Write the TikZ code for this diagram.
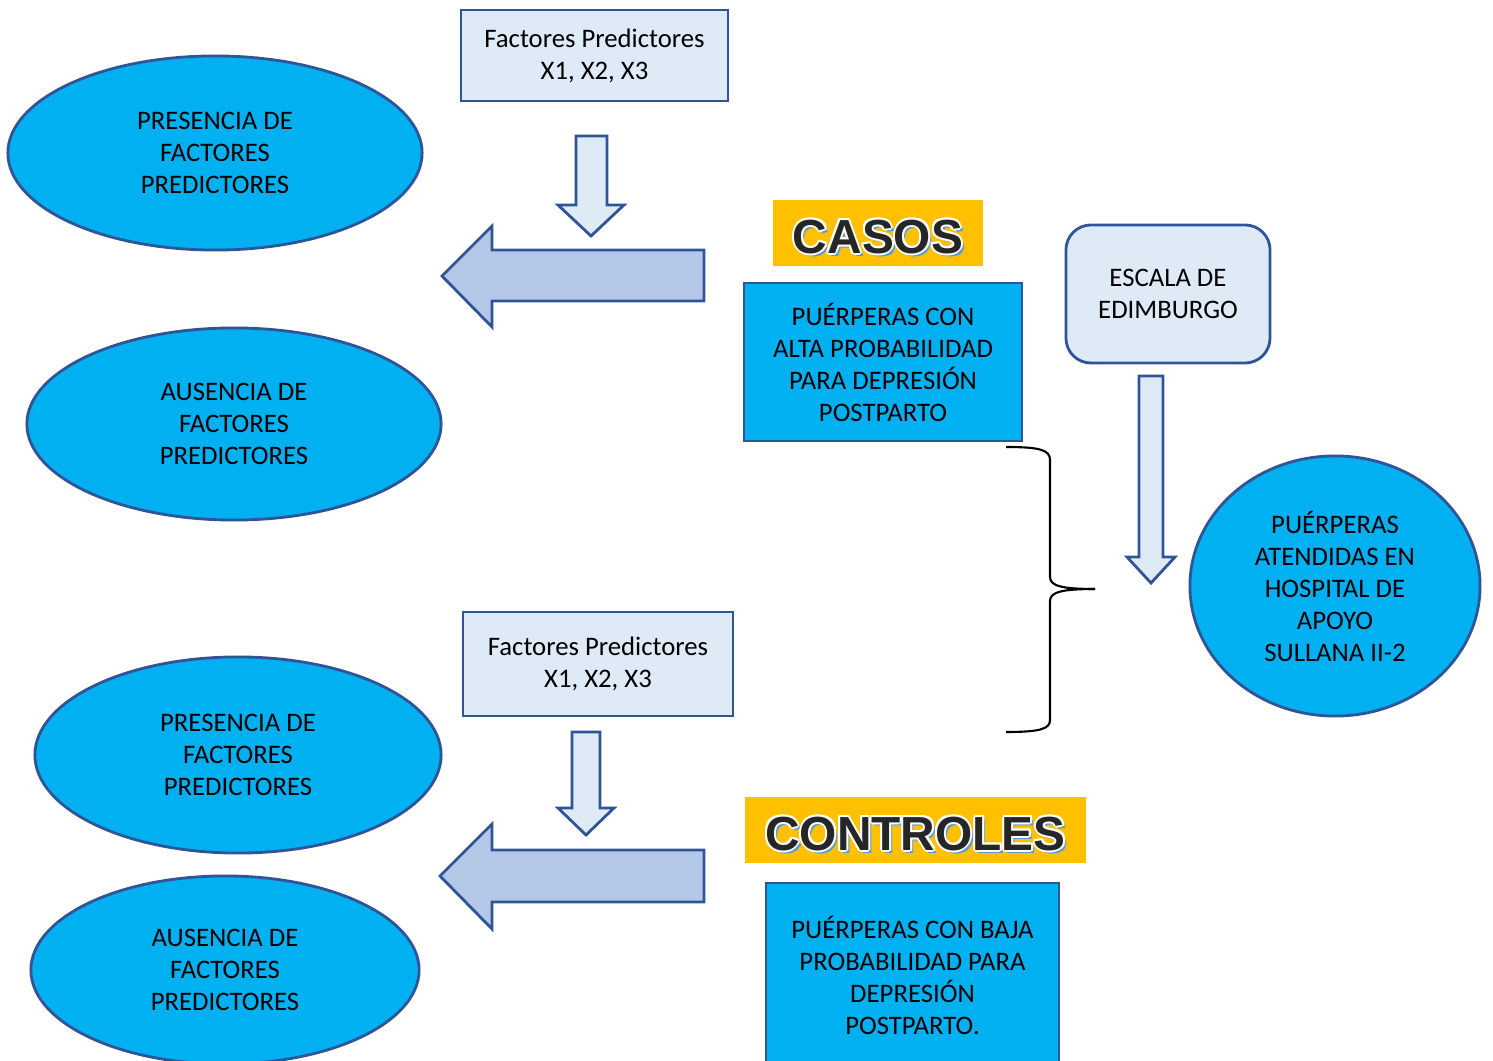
\documentclass[tikz,border=0pt]{standalone}
\usepackage{fontspec}
\setmainfont{Carlito}
\newfontfamily\bannerfont{Liberation Sans}
\usepackage{tikz}
\usetikzlibrary{shapes.geometric}

\definecolor{boxline}{HTML}{2F5597}
\definecolor{lightfill}{HTML}{DEEBF7}
\definecolor{cyanfill}{HTML}{00B0F0}
\definecolor{arrowfill}{HTML}{B4C7E7}
\definecolor{bannerfill}{HTML}{FFC000}
\definecolor{shadowblue}{HTML}{5B9BD5}
\definecolor{darktext}{HTML}{262626}

\tikzset{
  body/.style={font=\fontsize{7.6}{9.1}\selectfont, align=center},
  oval/.style={body, ellipse, draw=boxline, fill=cyanfill, line width=0.8pt, inner sep=0pt},
  factbox/.style={body, rectangle, draw=boxline, fill=lightfill, line width=0.8pt},
  groupbox/.style={body, rectangle, draw=boxline, fill=cyanfill, line width=0.8pt},
  downblock/.style={draw=boxline, fill=lightfill, line width=0.8pt, line join=miter},
  leftblock/.style={draw=boxline, fill=arrowfill, line width=0.8pt, line join=miter},
  bannerbox/.style={fill=bannerfill, inner sep=0pt},
  bannertext/.style={font=\fontsize{13.6}{16}\bannerfont\bfseries}
}

\begin{document}
\begin{tikzpicture}[x=0.01cm,y=-0.01cm]
    \useasboundingbox (0,0) rectangle (1493,1061);
    % Draw the upper group
    \node[factbox, minimum width=2.67cm, minimum height=0.91cm] (fact1) at (594.5,55.5) {Factores Predictores\\X1, X2, X3};
    \node[oval, minimum width=4.14cm, minimum height=1.94cm] (pres1) at (215,153) {PRESENCIA DE\\FACTORES\\PREDICTORES};
    \node[oval, minimum width=4.14cm, minimum height=1.92cm] (aus1) at (234,424) {AUSENCIA DE\\FACTORES\\PREDICTORES};
    \filldraw[downblock] (576,136) -- (607,136) -- (607,205) -- (624,205) -- (591,236) -- (558,205) -- (576,205) -- cycle;
    \filldraw[leftblock] (704,250) -- (492,250) -- (492,226) -- (442,276) -- (492,327) -- (492,301) -- (704,301) -- cycle;
    % Draw the casos label and box
    \node[bannerbox, minimum width=2.10cm, minimum height=0.66cm] (casosbanner) at (878,233) {};
    \node[bannertext, text=shadowblue] at (881,240) {CASOS};
    \foreach \dx/\dy in {-2/0, 2/0, 0/-2, 0/2, -1.5/-1.5, 1.5/1.5, -1.5/1.5, 1.5/-1.5}{
      \node[bannertext, text=white] at (878+\dx,237+\dy) {CASOS};
    }
    \node[bannertext, text=darktext] (casos) at (878,237) {CASOS};
    \node[groupbox, minimum width=2.78cm, minimum height=1.58cm] (alta) at (883,362) {PUÉRPERAS CON\\ALTA PROBABILIDAD\\PARA DEPRESIÓN\\POSTPARTO};
    % Draw the scale and the population
    \node[factbox, rounded corners=0.25cm, minimum width=2.04cm, minimum height=1.38cm] (escala) at (1168,294) {ESCALA DE\\EDIMBURGO};
    \filldraw[downblock] (1139,376) -- (1163,376) -- (1163,557) -- (1175,557) -- (1151,583) -- (1127,557) -- (1139,557) -- cycle;
    \node[oval, minimum width=2.90cm, minimum height=2.60cm] (puerperas) at (1335,586) {PUÉRPERAS\\ATENDIDAS EN\\HOSPITAL DE\\APOYO\\SULLANA II-2};
    % Draw the brace
    \draw[line width=0.6pt] (1006,447) .. controls (1040,447) and (1050,450) .. (1050,460) -- (1050,577)
      .. controls (1050,586) and (1062,589) .. (1095,589);
    \draw[line width=0.6pt] (1095,589) .. controls (1062,589) and (1050,592) .. (1050,601) -- (1050,720)
      .. controls (1050,729) and (1040,732) .. (1006,732);
    % Draw the lower group
    \node[factbox, minimum width=2.70cm, minimum height=1.04cm] (fact2) at (598,664) {Factores Predictores\\X1, X2, X3};
    \node[oval, minimum width=4.06cm, minimum height=1.96cm] (pres2) at (238,755) {PRESENCIA DE\\FACTORES\\PREDICTORES};
    \node[oval, minimum width=3.88cm, minimum height=1.88cm] (aus2) at (225,970) {AUSENCIA DE\\FACTORES\\PREDICTORES};
    \filldraw[downblock] (572,732) -- (600,732) -- (600,808) -- (614,808) -- (586,835) -- (558,808) -- (572,808) -- cycle;
    \filldraw[leftblock] (704,850) -- (492,850) -- (492,824) -- (440,876) -- (492,929) -- (492,902) -- (704,902) -- cycle;
    % Draw the controles label and box
    \node[bannerbox, minimum width=3.41cm, minimum height=0.66cm] (controlesbanner) at (915.5,830) {};
    \node[bannertext, text=shadowblue] at (918.5,837) {CONTROLES};
    \foreach \dx/\dy in {-2/0, 2/0, 0/-2, 0/2, -1.5/-1.5, 1.5/1.5, -1.5/1.5, 1.5/-1.5}{
      \node[bannertext, text=white] at (915.5+\dx,834+\dy) {CONTROLES};
    }
    \node[bannertext, text=darktext] (controles) at (915.5,834) {CONTROLES};
    \node[groupbox, minimum width=2.93cm, minimum height=1.84cm] (baja) at (912.5,975) {PUÉRPERAS CON BAJA\\PROBABILIDAD PARA\\DEPRESIÓN\\POSTPARTO.};
\end{tikzpicture}
\end{document}
